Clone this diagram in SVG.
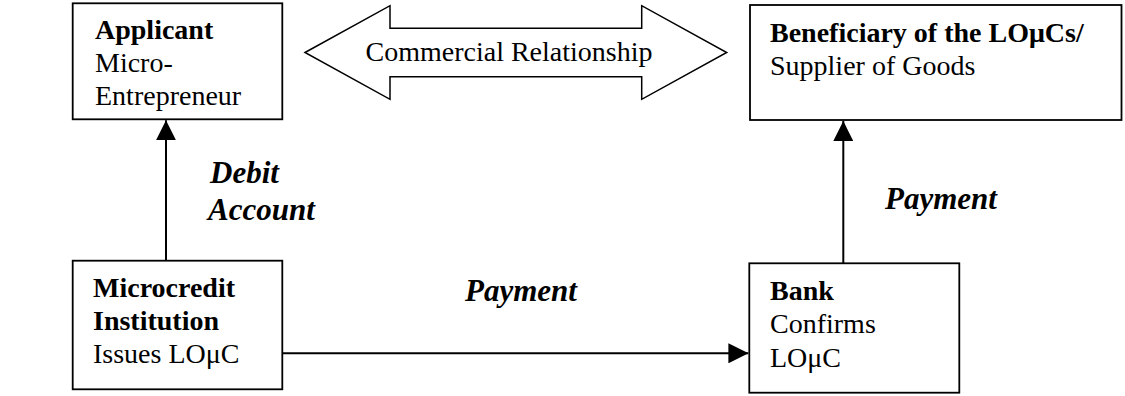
<svg xmlns="http://www.w3.org/2000/svg" width="1125" height="396" viewBox="0 0 1125 396">
<style>
  .box { fill: #fff; stroke: #000; stroke-width: 1.8; }
  .t { font-family: "Liberation Serif", "Times New Roman", serif; font-size: 28px; fill: #000; }
  .b { font-weight: bold; }
  .lbl { font-family: "Liberation Serif", "Times New Roman", serif; font-size: 31px; font-weight: bold; font-style: italic; fill: #000; }
  .conn { stroke: #000; stroke-width: 2; fill: none; marker-end: url(#ah); }
</style>
<defs>
  <marker id="ah" viewBox="0 0 20 20" refX="20" refY="10" markerWidth="20" markerHeight="20" markerUnits="userSpaceOnUse" orient="auto">
    <path d="M0,0 L20,10 L0,20 Z" fill="#000"/>
  </marker>
</defs>
<rect width="1125" height="396" fill="#fff"/>

<g id="applicant">
  <rect class="box" x="72.7" y="3.3" width="209.6" height="116"/>
  <text class="t b" x="95" y="39">Applicant</text>
  <text class="t" x="95" y="72">Micro-</text>
  <text class="t" x="95" y="105">Entrepreneur</text>
</g>

<g id="commercial-relationship">
  <polygon points="305,52.5 390,5.7 390,28.3 641.7,28.3 641.7,5.7 726.7,52.5 641.7,99.3 641.7,76.7 390,76.7 390,99.3" fill="#fff" stroke="#000" stroke-width="1.5" stroke-linejoin="miter"/>
  <text class="t" x="509" y="61" text-anchor="middle">Commercial Relationship</text>
</g>

<g id="beneficiary">
  <rect class="box" x="750" y="5" width="371.5" height="115"/>
  <text class="t b" x="770" y="42">Beneficiary of the LOμCs/</text>
  <text class="t" x="770" y="75">Supplier of Goods</text>
</g>

<g id="microcredit">
  <rect class="box" x="72.7" y="260.7" width="209.6" height="128.6"/>
  <text class="t b" x="93" y="297">Microcredit</text>
  <text class="t b" x="93" y="330">Institution</text>
  <text class="t" x="93" y="363">Issues LOμC</text>
</g>

<g id="bank">
  <rect class="box" x="749.3" y="263.3" width="210" height="129.4"/>
  <text class="t b" x="770" y="300">Bank</text>
  <text class="t" x="770" y="333">Confirms</text>
  <text class="t" x="770" y="367">LOμC</text>
</g>

<g id="connectors">
  <line class="conn" x1="166" y1="260.7" x2="166" y2="120.3"/>
  <line class="conn" x1="282.3" y1="353.3" x2="748.4" y2="353.3"/>
  <line class="conn" x1="843.3" y1="263.3" x2="843.3" y2="121"/>
  <text class="lbl" x="210" y="183">Debit</text>
  <text class="lbl" x="208" y="220">Account</text>
  <text class="lbl" x="465" y="301">Payment</text>
  <text class="lbl" x="885" y="209">Payment</text>
</g>
</svg>
